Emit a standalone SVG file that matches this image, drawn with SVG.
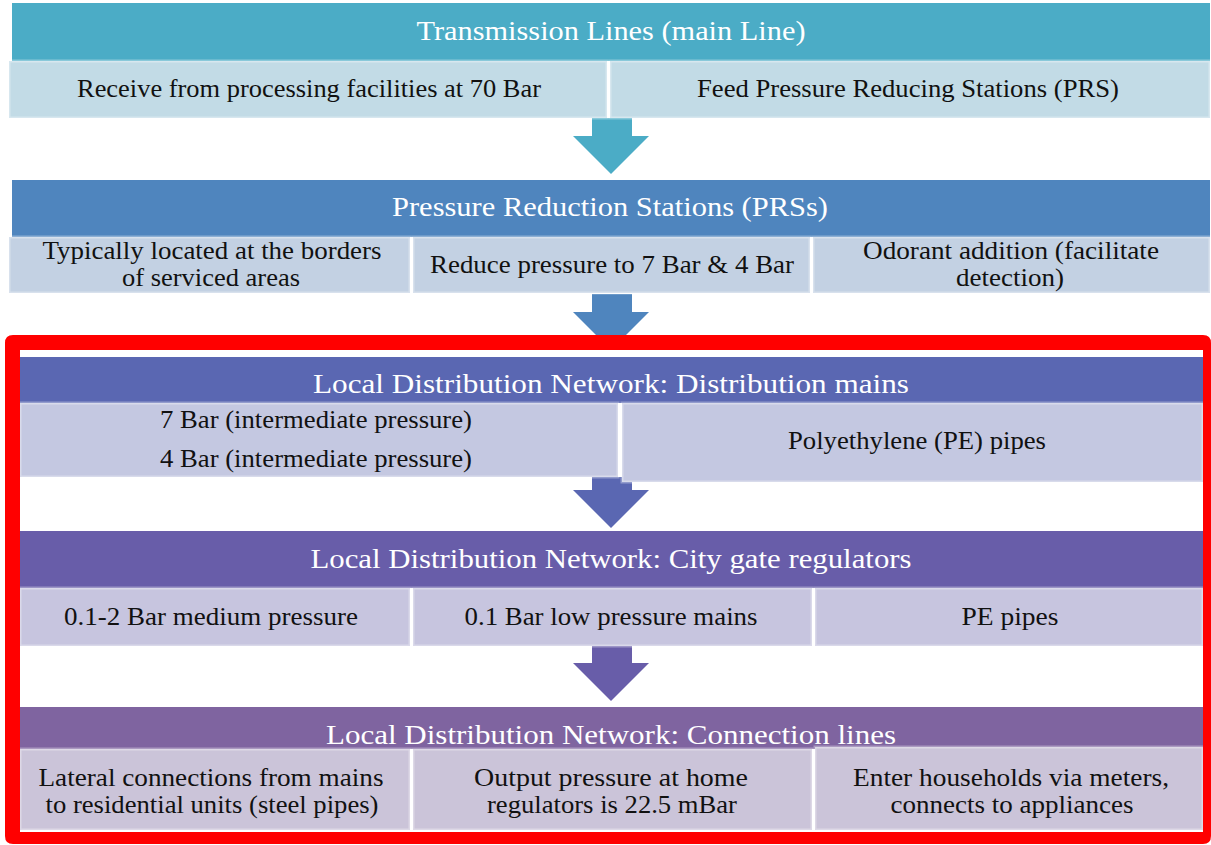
<svg xmlns="http://www.w3.org/2000/svg" width="1211" height="845" viewBox="0 0 1211 845">
<style>
text{font-family:"Liberation Serif","Times New Roman",serif;text-anchor:middle}
.t{fill:#ffffff;font-size:28px}
.b{fill:#111111;font-size:25px}
.s{stroke:#ffffff;stroke-opacity:0.35;stroke-width:3}
</style>
<rect width="1211" height="845" fill="#ffffff"/>
<g id="connectors">
<path d="M592,118 L632,118 L632,136 L649,136 L611,174 L573,136 L592,136 Z" fill="#4BACC6"/>
<path d="M592,294 L632,294 L632,312 L649,312 L611,350 L573,312 L592,312 Z" fill="#4F85BE"/>
<path d="M592,477 L632,477 L632,490 L649,490 L611,528 L573,490 L592,490 Z" fill="#5A67B2"/>
<path d="M592,646 L632,646 L632,663 L649,663 L611,701 L573,663 L592,663 Z" fill="#685DA9"/>
</g>
<g id="transmission">
<rect x="12" y="3" width="1198" height="58" fill="#4BACC6"/>
<text class="t" x="611" y="40" textLength="389" lengthAdjust="spacingAndGlyphs">Transmission Lines (main Line)</text>
<rect class="s" x="9" y="61" width="598" height="57" fill="#C2DBE6"/>
<rect class="s" x="610" y="61" width="600" height="57" fill="#C2DBE6"/>
<text class="b" x="309" y="97" textLength="464" lengthAdjust="spacingAndGlyphs">Receive from processing facilities at 70 Bar</text>
<text class="b" x="908" y="97" textLength="422" lengthAdjust="spacingAndGlyphs">Feed Pressure Reducing Stations (PRS)</text>
</g>
<g id="prs">
<rect x="12" y="180" width="1198" height="57" fill="#4F85BE"/>
<text class="t" x="610" y="216" textLength="436" lengthAdjust="spacingAndGlyphs">Pressure Reduction Stations (PRSs)</text>
<rect class="s" x="9" y="237" width="401" height="56" fill="#C3D1E3"/>
<rect class="s" x="413" y="237" width="397" height="56" fill="#C3D1E3"/>
<rect class="s" x="813" y="237" width="397" height="56" fill="#C3D1E3"/>
<text class="b" x="212" y="259" textLength="339" lengthAdjust="spacingAndGlyphs">Typically located at the borders</text>
<text class="b" x="211" y="286" textLength="178" lengthAdjust="spacingAndGlyphs">of serviced areas</text>
<text class="b" x="612" y="273" textLength="364" lengthAdjust="spacingAndGlyphs">Reduce pressure to 7 Bar &amp; 4 Bar</text>
<text class="b" x="1011" y="259" textLength="296" lengthAdjust="spacingAndGlyphs">Odorant addition (facilitate</text>
<text class="b" x="1010" y="286" textLength="108" lengthAdjust="spacingAndGlyphs">detection)</text>
</g>
<g id="distribution-mains">
<rect x="20" y="357" width="1183" height="46" fill="#5A67B2"/>
<text class="t" x="611" y="393" textLength="596" lengthAdjust="spacingAndGlyphs">Local Distribution Network: Distribution mains</text>
<rect class="s" x="20" y="403" width="598" height="74" fill="#C4C8E1"/>
<rect class="s" x="622" y="403" width="581" height="79" fill="#C4C8E1"/>
<text class="b" x="316" y="428" textLength="312" lengthAdjust="spacingAndGlyphs">7 Bar (intermediate pressure)</text>
<text class="b" x="316" y="467" textLength="312" lengthAdjust="spacingAndGlyphs">4 Bar (intermediate pressure)</text>
<text class="b" x="917" y="449" textLength="258" lengthAdjust="spacingAndGlyphs">Polyethylene (PE) pipes</text>
</g>
<g id="city-gate">
<rect x="20" y="531" width="1183" height="57" fill="#685DA9"/>
<text class="t" x="611" y="568" textLength="601" lengthAdjust="spacingAndGlyphs">Local Distribution Network: City gate regulators</text>
<rect class="s" x="20" y="588" width="390" height="58" fill="#C7C5DF"/>
<rect class="s" x="413" y="588" width="399" height="58" fill="#C7C5DF"/>
<rect class="s" x="815" y="588" width="388" height="58" fill="#C7C5DF"/>
<text class="b" x="211" y="625" textLength="294" lengthAdjust="spacingAndGlyphs">0.1-2 Bar medium pressure</text>
<text class="b" x="611" y="625" textLength="293" lengthAdjust="spacingAndGlyphs">0.1 Bar low pressure mains</text>
<text class="b" x="1010" y="625" textLength="97" lengthAdjust="spacingAndGlyphs">PE pipes</text>
</g>
<g id="connection-lines">
<rect x="20" y="707" width="1183" height="42" fill="#7F64A0"/>
<text class="t" x="611" y="744" textLength="570" lengthAdjust="spacingAndGlyphs">Local Distribution Network: Connection lines</text>
<rect class="s" x="20" y="749" width="390" height="81" fill="#CBC4D9"/>
<rect class="s" x="413" y="749" width="399" height="81" fill="#CBC4D9"/>
<rect class="s" x="815" y="747" width="388" height="83" fill="#CBC4D9"/>
<text class="b" x="211" y="786" textLength="345" lengthAdjust="spacingAndGlyphs">Lateral connections from mains</text>
<text class="b" x="212" y="813" textLength="333" lengthAdjust="spacingAndGlyphs">to residential units (steel pipes)</text>
<text class="b" x="611" y="786" textLength="274" lengthAdjust="spacingAndGlyphs">Output pressure at home</text>
<text class="b" x="612" y="813" textLength="250" lengthAdjust="spacingAndGlyphs">regulators is 22.5 mBar</text>
<text class="b" x="1011" y="786" textLength="316" lengthAdjust="spacingAndGlyphs">Enter households via meters,</text>
<text class="b" x="1012" y="813" textLength="243" lengthAdjust="spacingAndGlyphs">connects to appliances</text>
</g>
<g id="highlight">
<path fill="#FF0000" fill-rule="evenodd" d="M13,335 H1203 Q1211,335 1211,343 V836 Q1211,844 1203,844 H13 Q5,844 5,836 V343 Q5,335 13,335 Z M20,350 V832 H1203 V350 Z"/>
</g>
</svg>
